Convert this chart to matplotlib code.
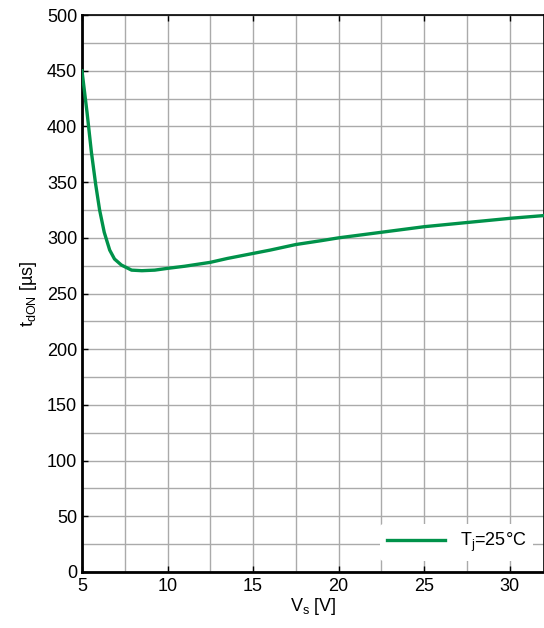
import matplotlib
matplotlib.use("Agg")
import matplotlib.pyplot as plt
import numpy as np

plt.rcParams['font.family'] = ['Liberation Sans', 'DejaVu Sans']

vs = [5.0, 5.3, 5.55, 5.8, 6.03, 6.3, 6.62, 6.9, 7.3, 7.9, 8.5, 9.25, 10.0, 11.0, 12.5, 13.5, 15.0, 16.0, 17.5, 19.0, 20.0, 21.5, 23.0, 25.0, 27.0, 29.0, 30.0, 32.0]
tdon = [450, 412, 377, 348, 325, 305, 289, 281, 275.6, 271, 270.5, 271, 272.6, 274.5, 278, 281.5, 286, 289, 294, 297.5, 300, 303, 306, 310, 313, 316, 317.5, 320]

xticks = [5, 10, 15, 20, 25, 30]
yticks = [0, 50, 100, 150, 200, 250, 300, 350, 400, 450, 500]

fig = plt.figure(figsize=(5.44, 6.28), dpi=100)
ax = fig.add_axes([0.1507, 0.0892, 0.8493, 0.8868])
ax.plot(vs, tdon, color='#00924A', lw=2.4, label='T$_\\mathregular{j}$=25°C', zorder=3)
ax.set_xlim(5, 32)
ax.set_ylim(0, 500)
ax.set_xticks(xticks)
ax.set_yticks(yticks)
ax.set_xticks(np.arange(7.5, 32, 5), minor=True)
ax.set_yticks(np.arange(25, 500, 50), minor=True)
ax.grid(True, which='both', color='#aaaaaa', lw=1.0)
ax.tick_params(which='major', direction='in', length=4, width=1, top=True, labelsize=13, colors='#000000')
ax.tick_params(which='minor', length=0)
ax.tick_params(axis='x', pad=4)
for s in ['left', 'bottom']:
    ax.spines[s].set_linewidth(2)
for s in ['top', 'right']:
    ax.spines[s].set_linewidth(1.2)
ax.set_xlabel('V$_\\mathregular{s}$ [V]', fontsize=13, labelpad=1)
ax.set_ylabel('t$_\\mathregular{dON}$ [µs]', fontsize=13, labelpad=6)
leg = ax.legend(loc='lower right', frameon=True, fontsize=13, handlelength=3.2, borderaxespad=0.6)
leg.get_frame().set_edgecolor('none')
leg.get_frame().set_facecolor('white')
leg.get_frame().set_alpha(1)
fig.savefig('out.png', dpi=100)
